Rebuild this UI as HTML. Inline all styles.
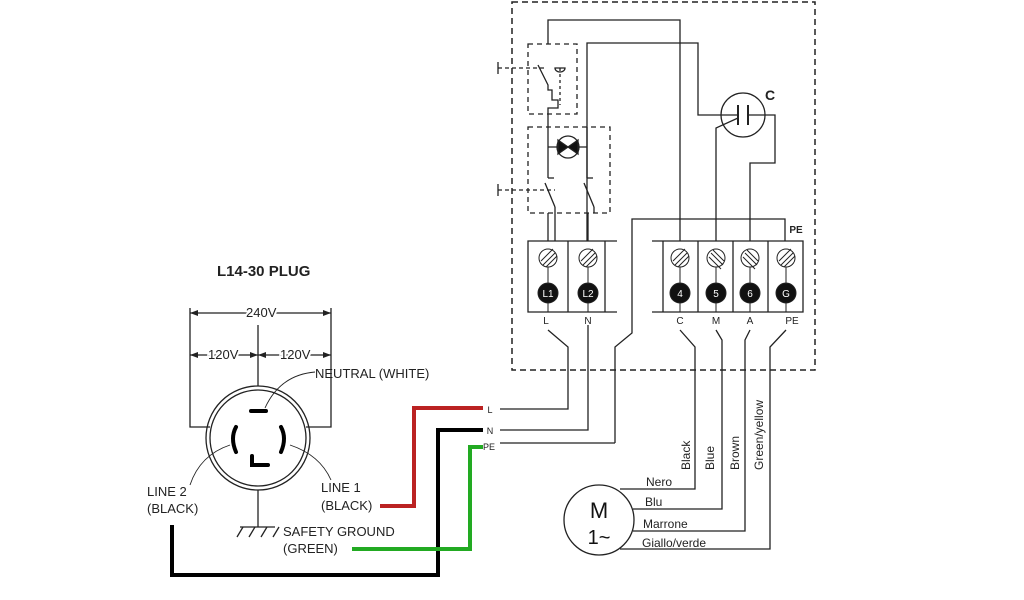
<!DOCTYPE html>
<html><head><meta charset="utf-8"><style>
html,body{margin:0;padding:0;background:#fff;}
svg{display:block;font-family:"Liberation Sans",Arial,sans-serif;}
</style></head><body>
<svg width="1024" height="600" viewBox="0 0 1024 600" xmlns="http://www.w3.org/2000/svg">
<g fill="none" stroke="#222" stroke-width="1.3">
<!-- outer dashed box -->
<rect x="512" y="2" width="303" height="368" stroke-dasharray="6,4" stroke-width="1.5"/>
<!-- switch boxes -->
<rect x="528" y="44" width="49" height="70" stroke-dasharray="5,4"/>
<rect x="528" y="127" width="82" height="86" stroke-dasharray="5,4"/>
<!-- top wires -->
<polyline points="548,44 548,20 680,20 680,241"/>
<polyline points="587,241 587,43 698,43 698,115 738,115"/>
<polyline points="748,115 775,115 775,163 750,163 750,241"/>
<polyline points="716,241 716,128 738,118"/>
<circle cx="743" cy="115" r="22"/>
<line x1="738" y1="105" x2="738" y2="125" stroke-width="2"/>
<line x1="748" y1="105" x2="748" y2="125" stroke-width="2"/>
<!-- switch 1 internals -->
<polyline points="548,114 548,108 558,108 558,100 552,100 552,90 548,90 548,85 538,65"/>
<line x1="498" y1="68" x2="545" y2="68" stroke-dasharray="4,3"/>
<line x1="498" y1="62" x2="498" y2="74"/>
<line x1="560" y1="68" x2="560" y2="105" stroke-dasharray="3,3"/>
<path d="M555,68 a5,4 0 0 0 10,0 z"/>
<!-- lamp -->
<line x1="548" y1="114" x2="548" y2="178"/>
<line x1="587" y1="127" x2="587" y2="178"/>
<line x1="548" y1="147" x2="587" y2="147"/>
<circle cx="568" cy="147" r="11" fill="#fff"/>
<path d="M558,140 L578,154 L578,140 L558,154 Z" fill="#111"/>
<!-- switch 2 -->
<polyline points="548,178 554,178"/>
<polyline points="587,178 593,178"/>
<line x1="545" y1="183" x2="555" y2="207"/>
<line x1="584" y1="183" x2="594" y2="207"/>
<line x1="555" y1="207" x2="555" y2="241"/>
<line x1="594" y1="207" x2="594" y2="213"/>
<line x1="498" y1="190" x2="555" y2="190" stroke-dasharray="4,3"/>
<line x1="498" y1="184" x2="498" y2="196"/>
<line x1="548" y1="213" x2="548" y2="241"/>
<line x1="588" y1="213" x2="588" y2="241"/>
<!-- PE bus -->
<polyline points="785,241 785,219 632,219 632,333 615,347 615,443"/>
<!-- terminal strips -->
<polyline points="617,241 528,241 528,312 617,312"/>
<line x1="568" y1="241" x2="568" y2="312"/><line x1="605" y1="241" x2="605" y2="312"/>
<polyline points="652,241 803,241 803,312 652,312"/>
<line x1="663" y1="241" x2="663" y2="312"/><line x1="698" y1="241" x2="698" y2="312"/>
<line x1="733" y1="241" x2="733" y2="312"/><line x1="768" y1="241" x2="768" y2="312"/>
<!-- leads -->
<polyline points="548,330 568,347 568,409 500,409"/>
<polyline points="588,325 588,430 500,430"/>
<polyline points="615,443 500,443"/>
<polyline points="680,330 695,347 695,489 620,489"/>
<polyline points="716,330 722,340 722,509 633,509"/>
<polyline points="750,330 745,340 745,531 633,531"/>
<polyline points="786,330 770,347 770,549 620,549"/>
<circle cx="599" cy="520" r="35" fill="#fff"/>
<!-- plug -->
<polyline points="190,308 190,427 210,427"/>
<polyline points="331,308 331,427 306,427"/>
<line x1="190" y1="313" x2="331" y2="313"/>
<line x1="190" y1="355" x2="331" y2="355"/>
<line x1="258" y1="325" x2="258" y2="386"/>
<circle cx="258" cy="438" r="52"/>
<circle cx="258" cy="438" r="48"/>
<line x1="258" y1="490" x2="258" y2="527"/>
<line x1="240" y1="527" x2="275" y2="527"/>
<line x1="243" y1="527" x2="237" y2="537"/><line x1="255" y1="527" x2="249" y2="537"/><line x1="267" y1="527" x2="261" y2="537"/><line x1="279" y1="527" x2="273" y2="537"/>
<path d="M315,372 Q280,375 265,408" stroke-width="0.9"/>
<path d="M230,445 Q200,455 190,485" stroke-width="0.9"/>
<path d="M290,445 Q320,455 331,480" stroke-width="0.9"/>
</g>
<g fill="#222">
<polygon points="190,313 198,310 198,316"/><polygon points="331,313 323,310 323,316"/>
<polygon points="190,355 198,352 198,358"/><polygon points="331,355 323,352 323,358"/>
<polygon points="258,355 250,352 250,358"/><polygon points="258,355 266,352 266,358"/>
</g>
<g fill="none" stroke="#000" stroke-width="4" stroke-linecap="round">
<line x1="251" y1="411" x2="266" y2="411"/>
<path d="M236,427 Q230,438 236,452"/>
<path d="M281,427 Q287,438 281,452"/>
<path d="M252,456 L252,465 L268,465"/>
</g>
<!-- screws and pins -->
<g stroke="#222" stroke-width="1">
<g fill="#fff">
<circle cx="548" cy="258" r="9"/><circle cx="588" cy="258" r="9"/><circle cx="680" cy="258" r="9"/><circle cx="716" cy="258" r="9"/><circle cx="750" cy="258" r="9"/><circle cx="786" cy="258" r="9"/>
</g>
<g fill="#111">
<circle cx="548" cy="293" r="10"/><circle cx="588" cy="293" r="10"/><circle cx="680" cy="293" r="10"/><circle cx="716" cy="293" r="10"/><circle cx="750" cy="293" r="10"/><circle cx="786" cy="293" r="10"/>
</g>
<path d="M543,265 L555,253 M541,261 L553,249 M546,267 L557,256 M583,265 L595,253 M581,261 L593,249 M586,267 L597,256 M675,265 L687,253 M673,261 L685,249 M678,267 L689,256 M711,253 L723,265 M709,257 L721,269 M713,250 L724,261 M745,253 L757,265 M743,257 L755,269 M747,250 L758,261 M781,265 L793,253 M779,261 L791,249 M784,267 L795,256"/>
<path d="M548,267 V284 M588,267 V284 M680,267 V284 M716,267 V284 M750,267 V284 M786,267 V284 M548,303 V312 M588,303 V312 M680,303 V312 M716,303 V312 M750,303 V312 M786,303 V312"/>
</g>
<g fill="#fff" font-size="10" text-anchor="middle">
<text x="548" y="297">L1</text><text x="588" y="297">L2</text><text x="680" y="297">4</text><text x="716" y="297">5</text><text x="750" y="297">6</text><text x="786" y="297">G</text>
</g>
<!-- colored wires -->
<g fill="none" stroke-width="4">
<polyline points="380,506 414,506 414,408 483,408" stroke="#b22"/>
<polyline points="172,525 172,575 438,575 438,430 483,430" stroke="#000"/>
<polyline points="352,549 470,549 470,447 483,447" stroke="#2a2"/>
</g>
<g fill="#222" font-size="10" text-anchor="middle">
<text x="546" y="324">L</text><text x="588" y="324">N</text><text x="680" y="324">C</text><text x="716" y="324">M</text><text x="750" y="324">A</text><text x="792" y="324">PE</text>
<text x="796" y="233" font-weight="bold">PE</text>
<text x="490" y="413" font-size="9">L</text><text x="490" y="434" font-size="9">N</text><text x="489" y="450" font-size="9">PE</text>
</g>
<text x="765" y="100" font-size="14" font-weight="bold" fill="#222">C</text>
<g font-size="12" fill="#222">
<text x="646" y="486">Nero</text><text x="645" y="506">Blu</text><text x="643" y="528">Marrone</text><text x="642" y="547">Giallo/verde</text>
<text transform="translate(690,470) rotate(-90)">Black</text>
<text transform="translate(714,470) rotate(-90)">Blue</text>
<text transform="translate(739,470) rotate(-90)">Brown</text>
<text transform="translate(763,470) rotate(-90)">Green/yellow</text>
</g>
<text x="599" y="518" font-size="22" text-anchor="middle" fill="#111">M</text>
<text x="599" y="544" font-size="20" text-anchor="middle" fill="#111">1~</text>
<text x="217" y="276" font-size="15" font-weight="bold" fill="#222">L14-30 PLUG</text>
<g font-size="13" fill="#222">
<text x="246" y="317" style="paint-order:stroke" stroke="#fff" stroke-width="4">240V</text>
<text x="208" y="359" style="paint-order:stroke" stroke="#fff" stroke-width="4">120V</text>
<text x="280" y="359" style="paint-order:stroke" stroke="#fff" stroke-width="4">120V</text>
<text x="315" y="378">NEUTRAL (WHITE)</text>
<text x="147" y="496">LINE 2</text><text x="147" y="513">(BLACK)</text>
<text x="321" y="492">LINE 1</text><text x="321" y="510">(BLACK)</text>
<text x="283" y="536">SAFETY GROUND</text><text x="283" y="553">(GREEN)</text>
</g>
</svg>
</body></html>
